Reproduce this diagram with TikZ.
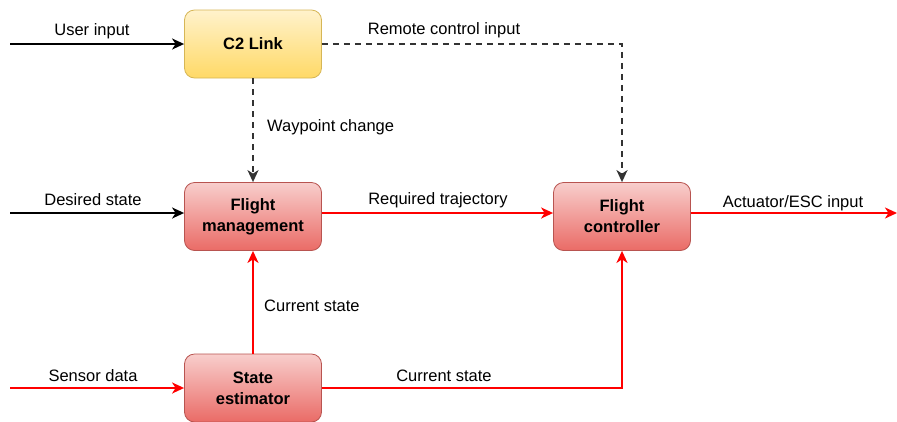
\documentclass[tikz,border=0pt]{standalone}
\usepackage{fontspec}
\setmainfont{Liberation Sans}
\usetikzlibrary{arrows.meta}
\begin{document}
\begin{tikzpicture}[x=1pt,y=-1pt,
  font=\fontsize{16.5}{20}\selectfont,
  block/.style={draw, line width=0.8pt, rounded corners=10pt, minimum width=137pt,
    minimum height=68pt, align=center, font=\fontsize{16.5}{21}\selectfont\bfseries},
  yellowbox/.style={block, draw={rgb,255:red,214;green,182;blue,86},
    top color={rgb,255:red,255;green,242;blue,204}, bottom color={rgb,255:red,255;green,217;blue,102}},
  redbox/.style={block, draw={rgb,255:red,184;green,84;blue,80},
    top color={rgb,255:red,248;green,206;blue,204}, bottom color={rgb,255:red,234;green,107;blue,102}},
  flow/.style={line width=2pt, -{Stealth[length=12pt,width=11pt,inset=3.5pt]}},
  blackflow/.style={flow, color=black},
  redflow/.style={flow, color=red},
  dashflow/.style={flow, color=black!80, dash pattern=on 6pt off 5pt},
  lbl/.style={inner sep=0pt}
]
\useasboundingbox (0,0) rectangle (897,421);

% blocks
\node[yellowbox] (c2)  at (253,44)  {C2 Link};
\node[redbox]    (fm)  at (253,216.5) {Flight\\management};
\node[redbox]    (fc)  at (622,216.5) {Flight\\controller};
\node[redbox]    (se)  at (253,388) {State\\estimator};

% free line ends
\coordinate (uin)  at (10,44);
\coordinate (din)  at (10,213);
\coordinate (sin)  at (10,388);
\coordinate (aout) at (897,213);
\coordinate (rcc)  at (622,44);
\coordinate (csc)  at (622,388);

% connectors
\draw[blackflow] (uin) -- (uin -| c2.west);
\draw[blackflow] (din) -- (din -| fm.west);
\draw[redflow]   (sin) -- (sin -| se.west);
\draw[dashflow]  (c2.east |- rcc) -- (rcc) -- (fc.north);
\draw[dashflow]  (c2.south) -- (fm.north);
\draw[redflow]   (fm.east |- din) -- (fc.west |- din);
\draw[redflow]   (fc.east |- aout) -- (aout);
\draw[redflow]   (se.north) -- (fm.south);
\draw[redflow]   (se.east |- sin) -- (csc) -- (fc.south);

% labels
\node[lbl] (l1) at (92,31)   {User input};
\node[lbl] (l2) at (444,30)  {Remote control input};
\node[lbl, anchor=west] (l3) at (267,127) {Waypoint change};
\node[lbl] (l4) at (93,200)  {Desired state};
\node[lbl] (l5) at (438,200) {Required trajectory};
\node[lbl] (l6) at (793,203) {Actuator/ESC input};
\node[lbl, anchor=west] (l7) at (264,306) {Current state};
\node[lbl] (l8) at (93,376)  {Sensor data};
\node[lbl] (l9) at (444,376) {Current state};
\end{tikzpicture}
\end{document}
